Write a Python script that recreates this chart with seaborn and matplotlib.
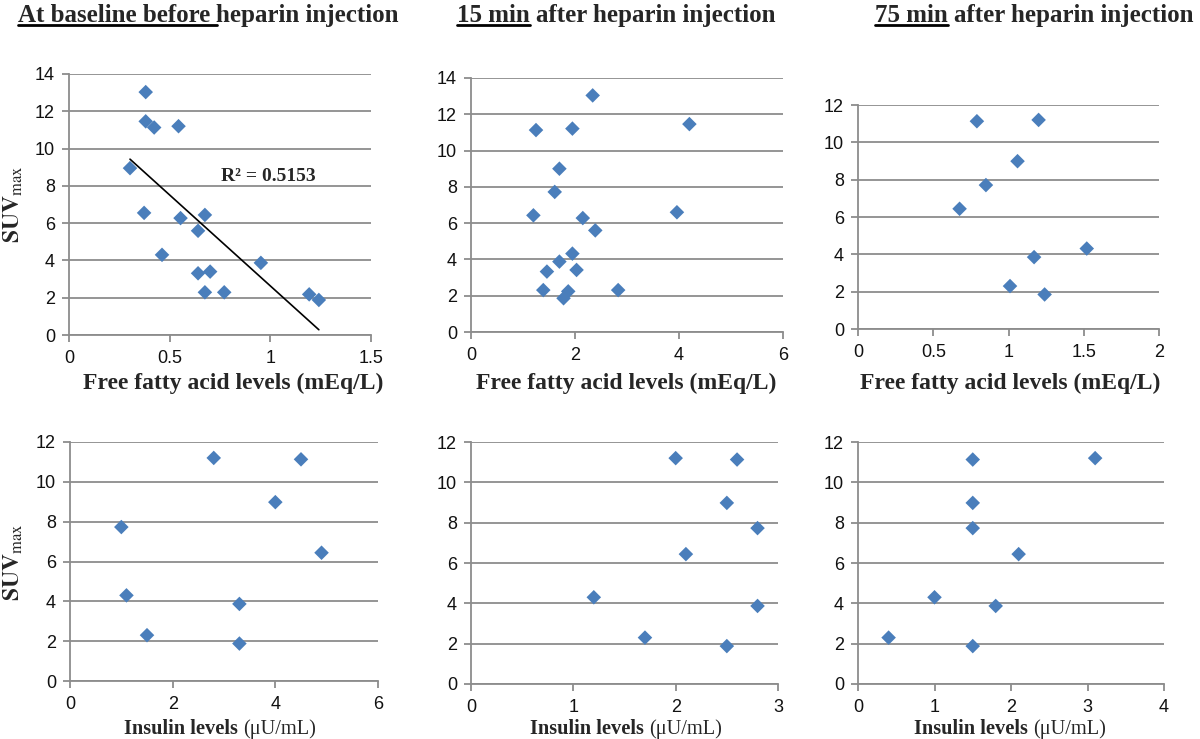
import numpy as np
import pandas as pd
import seaborn as sns
import matplotlib.pyplot as plt
from matplotlib.lines import Line2D
from matplotlib.ticker import FuncFormatter

# --- data -----------------------------------------------------------------
# free fatty acid levels (mEq/L) vs SUVmax
ffa_base_x = [0.381, 0.381, 0.423, 0.544, 0.303, 0.373, 0.554, 0.675, 0.641,
              0.462, 0.641, 0.701, 0.675, 0.771, 0.953, 1.193, 1.241]
ffa_base_y = [13.03, 11.46, 11.13, 11.20, 8.95, 6.55, 6.27, 6.44, 5.59,
              4.30, 3.31, 3.40, 2.29, 2.29, 3.87, 2.18, 1.88]

ffa_15_x = [2.34, 1.25, 1.95, 4.20, 1.70, 1.61, 1.20, 2.15, 2.39,
            3.96, 1.95, 1.70, 1.46, 2.03, 1.39, 2.83, 1.87, 1.78]
ffa_15_y = [13.04, 11.13, 11.21, 11.46, 9.00, 7.72, 6.43, 6.28, 5.60,
            6.60, 4.32, 3.88, 3.33, 3.42, 2.31, 2.31, 2.24, 1.86]

ffa_75_x = [1.20, 0.79, 1.06, 0.85, 0.675, 1.52, 1.17, 1.01, 1.24]
ffa_75_y = [11.20, 11.13, 8.99, 7.71, 6.44, 4.31, 3.85, 2.30, 1.85]

# insulin levels (uU/mL) vs SUVmax
suv_ins = [11.20, 11.13, 8.98, 7.73, 6.44, 4.30, 3.87, 2.30, 1.88]
ins_base_x = [2.8, 4.5, 4.0, 1.0, 4.9, 1.1, 3.3, 1.5, 3.3]
ins_15_x = [2.0, 2.6, 2.5, 2.8, 2.1, 1.2, 2.8, 1.7, 2.5]
ins_75_x = [3.1, 1.5, 1.5, 1.5, 2.1, 1.0, 1.8, 0.4, 1.5]

r2_label = "R² = 0.5153"

# --- style ----------------------------------------------------------------
sns.set_theme(style="white")
plt.rcParams['font.family'] = ['Liberation Sans', 'DejaVu Sans']
plt.rcParams['mathtext.fontset'] = 'stix'

W, H = 1200, 739
GRID = '#8c8c8c'
BLUE = '#4a7ebb'
SERIF = ['Liberation Serif', 'DejaVu Serif']

fig = plt.figure(figsize=(12, 7.39), dpi=100)


def box(l, t, r, b):
    return [l / W, (H - b) / H, (r - l) / W, (b - t) / H]


def scatter(ax, x, y):
    df = pd.DataFrame({'x': x, 'y': y})
    sns.scatterplot(data=df, x='x', y='y', ax=ax, marker='D', s=55,
                    color=BLUE, edgecolor='none', zorder=3)


def style_ax(ax, xmax, xstep, ymax):
    ax.set_xlim(0, xmax)
    ax.set_ylim(0, ymax)
    ax.set_xticks(np.arange(0, xmax + xstep / 2, xstep))
    ax.set_yticks(np.arange(0, ymax + 1, 2))
    ax.xaxis.set_major_formatter(FuncFormatter(lambda v, p: f"{v:g}"))
    ax.set_axisbelow(True)
    ax.yaxis.grid(True, color=GRID, lw=1.3)
    ax.xaxis.grid(False)
    for s in ['top', 'right']:
        ax.spines[s].set_visible(False)
    for s in ['left', 'bottom']:
        ax.spines[s].set_color(GRID)
        ax.spines[s].set_linewidth(1.3)
    ax.tick_params(length=5, width=1.3, color=GRID, labelsize=13,
                   labelcolor='#111111', direction='out', left=True, bottom=True)
    ax.tick_params(axis='x', pad=6)
    ax.tick_params(axis='y', pad=5)
    ax.set_xlabel('')
    ax.set_ylabel('')
    for c in ax.collections:
        c.set_clip_on(False)


ax1 = fig.add_axes(box(69, 74, 371, 335))
scatter(ax1, ffa_base_x, ffa_base_y)
sns.regplot(x=np.array(ffa_base_x), y=np.array(ffa_base_y), ax=ax1, scatter=False,
            ci=None, color='black', line_kws={'lw': 1.2})
style_ax(ax1, 1.5, 0.5, 14)
ax1.text(0.755, 8.05, r2_label, family=SERIF, weight='bold', size=14,
         va='bottom', ha='left')

ax2 = fig.add_axes(box(471, 78, 783, 332))
scatter(ax2, ffa_15_x, ffa_15_y)
style_ax(ax2, 6, 2, 14)

ax3 = fig.add_axes(box(858, 105, 1159, 329))
scatter(ax3, ffa_75_x, ffa_75_y)
style_ax(ax3, 2, 0.5, 12)

ax4 = fig.add_axes(box(70, 442, 378, 681))
scatter(ax4, ins_base_x, suv_ins)
style_ax(ax4, 6, 2, 12)

ax5 = fig.add_axes(box(471, 442, 778, 684))
scatter(ax5, ins_15_x, suv_ins)
style_ax(ax5, 3, 1, 12)

ax6 = fig.add_axes(box(858, 442, 1164, 684))
scatter(ax6, ins_75_x, suv_ins)
style_ax(ax6, 4, 1, 12)

renderer = fig.canvas.get_renderer()


def pieces(x_left, y, parts, size, underline=None, center=False):
    """lay out text parts side by side (pixel coords from top-left)"""
    gap = 0.25 * size * 100 / 72
    texts = []
    for s, w in parts:
        t = fig.text(0, (H - y) / H, s, family=SERIF, weight=w, size=size,
                     va='baseline', ha='left')
        texts.append(t)
    widths = [t.get_window_extent(renderer).width for t in texts]
    total = sum(widths) + gap * (len(widths) - 1)
    x = x_left - total / 2 if center else x_left
    spans = []
    for t, wd in zip(texts, widths):
        t.set_x(x / W)
        spans.append((x, x + wd))
        x += wd + gap
    if underline is not None:
        i, extend = underline
        x0, x1 = spans[i]
        if extend:
            x1 += gap
        fig.add_artist(Line2D([x0 / W, x1 / W], [(H - y - 3) / H] * 2,
                              transform=fig.transFigure, color='black', lw=2))


# titles
pieces(18, 22, [("At baseline before", 'bold'), ("heparin injection", 'bold')], 18,
       underline=(0, True))
pieces(457, 22, [("15 min", 'bold'), ("after heparin injection", 'bold')], 18,
       underline=(0, False))
pieces(875, 22, [("75 min", 'bold'), ("after heparin injection", 'bold')], 18,
       underline=(0, False))

# x labels
for xc in [233, 626, 1010]:
    pieces(xc, 389, [("Free fatty acid levels (mEq/L)", 'bold')], 17, center=True)
for xc in [220, 626, 1010]:
    pieces(xc, 734, [("Insulin levels", 'bold'), ("(μU/mL)", 'normal')], 14.7,
           center=True)

# y labels
for yc in [204, 562]:
    fig.text(13 / W, (H - yc) / H, r"$\mathbf{SUV}_{\mathrm{max}}$", rotation=90,
             ha='center', va='center', size=17)

fig.savefig('out.png', dpi=100)
